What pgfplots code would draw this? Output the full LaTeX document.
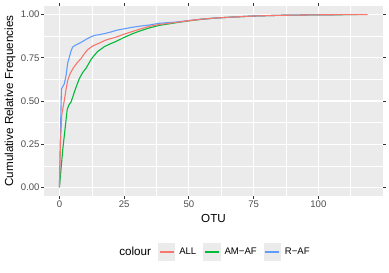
\documentclass[border=0pt]{standalone}
\usepackage{fontspec}
\setmainfont{Liberation Sans}
\usepackage{pgfplots}
\pgfplotsset{compat=1.18}
\definecolor{ggbg}{HTML}{EBEBEB}
\definecolor{cALL}{HTML}{F8766D}
\definecolor{cAM}{HTML}{00BA38}
\definecolor{cR}{HTML}{619CFF}
\definecolor{tickc}{HTML}{4D4D4D}
\definecolor{tickm}{HTML}{333333}
\begin{document}
\begin{tikzpicture}
\useasboundingbox (0,0) rectangle (389bp,273bp);
\begin{axis}[
  at={(44bp,77bp)}, anchor=south west,
  scale only axis, width=339bp, height=190bp,
  xmin=-5.95, xmax=124.95, ymin=-0.05, ymax=1.05,
  axis background/.style={fill=ggbg},
  axis line style={draw=none},
  xtick={0,25,50,75,100},
  ytick={0,0.25,0.5,0.75,1},
  yticklabels={0.00,0.25,0.50,0.75,1.00},
  minor xtick={12.5,37.5,62.5,87.5,112.5},
  minor ytick={0.125,0.375,0.625,0.875},
  grid=both,
  major grid style={white, line width=1.07bp},
  minor grid style={white, line width=0.53bp},
  tick align=outside, major tick length=2.75bp, minor tick length=0pt,
  tick style={tickm, line width=0.8bp},
  /pgf/number format/assume math mode=true,
  ticklabel style={font=\fontsize{9.6}{10}\selectfont, text=tickc},
  xticklabel style={inner sep=1.5bp},
  yticklabel style={inner sep=1.5bp},
  xlabel={OTU}, ylabel={Cumulative Relative Frequencies},
  every axis x label/.style={at={(axis description cs:0.5,-0.118)}, anchor=center, font=\fontsize{11.7}{12}\selectfont},
  every axis y label/.style={at={(axis description cs:-0.1,0.5)}, rotate=90, anchor=center, font=\fontsize{11.7}{12}\selectfont},
  legend columns=4,
  legend style={at={(axis description cs:0.5,-0.295)}, anchor=center, draw=none, fill=none,
    font=\fontsize{9.6}{10}\selectfont, inner sep=0pt,
    /tikz/every even column/.append style={column sep=5bp},
    /tikz/every odd column/.append style={column sep=2bp}},
  legend image code/.code={
    \fill[ggbg, draw=none] (0bp,-8.64bp) rectangle (17.28bp,8.64bp);
    \draw[#1] (1.7bp,0bp) -- (15.6bp,0bp);},
  legend cell align=left,
]
\addlegendimage{empty legend}
\addlegendentry{\fontsize{11.7}{12}\selectfont colour}
\addlegendimage{cALL, line width=1.1bp}
\addlegendentry{ALL}
\addlegendimage{cAM, line width=1.1bp}
\addlegendentry{AM−AF}
\addlegendimage{cR, line width=1.1bp}
\addlegendentry{R−AF}
\addplot[cAM, line width=1.1bp, forget plot] coordinates {
(0,0)(1.3,0.22)(3,0.45)(3.6,0.475)(4.5,0.495)(5.2,0.525)(5.8,0.553)(6.8,0.595)(7.7,0.63)(9,0.665)(10.3,0.69)(12.2,0.74)(13.5,0.765)(14.8,0.787)(17.4,0.815)(19.5,0.83)(21.9,0.845)(25,0.868)(28.3,0.89)(31,0.905)(34.7,0.923)(38.6,0.938)(45,0.953)(50,0.964)(55,0.973)(60,0.98)(67,0.986)(75,0.992)(85,0.996)(100,0.999)(115,1)};
\addplot[cR, line width=1.1bp, forget plot] coordinates {
(0,0)(0.3,0.25)(0.6,0.45)(0.8,0.57)(1.9,0.6)(2.6,0.65)(3.2,0.72)(3.9,0.757)(4.5,0.79)(5.1,0.812)(6,0.822)(7.7,0.834)(9,0.845)(10.9,0.862)(12,0.87)(13.5,0.88)(15.4,0.884)(17.4,0.89)(20,0.9)(21.9,0.909)(25,0.918)(28.3,0.927)(31,0.933)(34.7,0.94)(38.6,0.95)(45,0.957)(50,0.966)(55,0.974)(60,0.98)(67,0.986)(75,0.992)(85,0.996)(100,0.999)(110,1)};
\addplot[cALL, line width=1.1bp, forget plot] coordinates {
(0,0)(0.4,0.25)(0.9,0.42)(1.9,0.505)(2.6,0.57)(3.2,0.62)(4.2,0.66)(5.3,0.69)(6.8,0.72)(8.4,0.747)(9.7,0.775)(10.9,0.797)(13,0.82)(15.4,0.835)(17.4,0.85)(19.5,0.86)(21.9,0.87)(25,0.887)(28.3,0.903)(31,0.916)(34.7,0.932)(38.6,0.943)(45,0.955)(50,0.965)(55,0.974)(60,0.98)(67,0.986)(75,0.992)(85,0.996)(100,0.999)(110,1)(119,1)};
\end{axis}
\end{tikzpicture}
\end{document}
